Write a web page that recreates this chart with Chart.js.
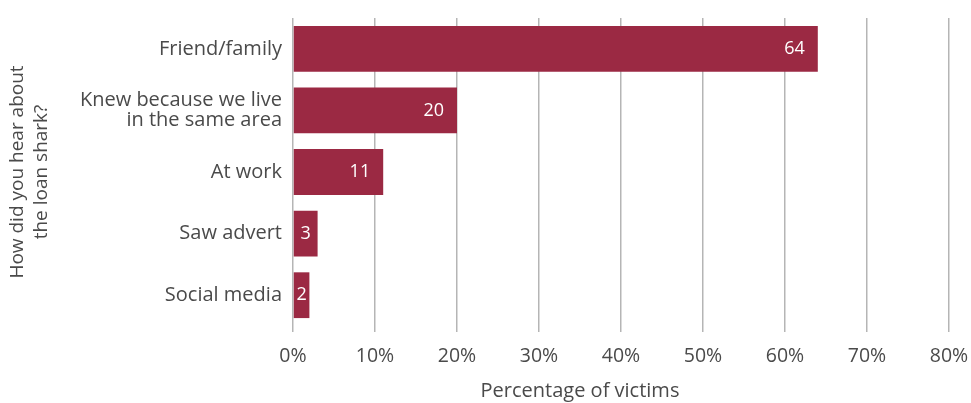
<!DOCTYPE html>
<html>
<head>
<meta charset="utf-8">
<script src="https://cdn.jsdelivr.net/npm/chart.js@4.4.0/dist/chart.umd.min.js"></script>
<style>
  html, body { margin: 0; padding: 0; background: #ffffff; }
  #wrap { width: 971px; height: 403px; }
</style>
</head>
<body>
<div id="wrap"><canvas id="chart" width="971" height="403"></canvas></div>
<script>
// How victims first heard about the loan shark (% of victims)
const categories = [
  'Friend/family',
  ['Knew because we live', 'in the same area'],
  'At work',
  'Saw advert',
  'Social media'
];
const shares = [64, 20, 11, 3, 2];
const xTicks = [0, 10, 20, 30, 40, 50, 60, 70, 80];
const xTitle = 'Percentage of victims';

const BAR = '#9b2943';
const TEXT = '#4a4a4a';
const FONT = '"Open Sans", "Noto Sans", sans-serif';

// White value labels at the inside end of each bar (centred when the bar is short)
const valueLabels = {
  id: 'valueLabels',
  afterDatasetsDraw(chart) {
    const ctx = chart.ctx;
    const meta = chart.getDatasetMeta(0);
    ctx.save();
    ctx.font = '18px ' + FONT;
    ctx.fillStyle = '#ffffff';
    ctx.textBaseline = 'middle';
    meta.data.forEach((bar, i) => {
      const txt = String(shares[i]);
      const w = ctx.measureText(txt).width;
      const start = bar.base, end = bar.x;
      if (end - start >= w + 26) {
        ctx.textAlign = 'right';
        ctx.fillText(txt, end - 13, bar.y);
      } else {
        ctx.textAlign = 'center';
        ctx.fillText(txt, (start + end) / 2, bar.y);
      }
    });
    ctx.restore();
  }
};

// Horizontal axis title, placed under the 35% mark near the bottom of the x scale
const xAxisTitle = {
  id: 'xAxisTitle',
  afterDraw(chart) {
    const ctx = chart.ctx;
    const sx = chart.scales.x;
    ctx.save();
    ctx.font = '20px ' + FONT;
    ctx.fillStyle = TEXT;
    ctx.textAlign = 'center';
    ctx.textBaseline = 'middle';
    ctx.fillText(xTitle, sx.getPixelForValue(35), sx.bottom - 12);
    ctx.restore();
  }
};

new Chart(document.getElementById('chart'), {
  type: 'bar',
  data: {
    labels: categories,
    datasets: [{
      data: shares,
      backgroundColor: BAR,
      borderWidth: 0,
      barPercentage: 0.743,
      categoryPercentage: 1
    }]
  },
  options: {
    indexAxis: 'y',
    responsive: false,
    animation: false,
    layout: { padding: { left: 0, right: 22, top: 18, bottom: 0 } },
    plugins: { legend: { display: false }, tooltip: { enabled: false } },
    scales: {
      x: {
        min: 0,
        max: 80,
        afterBuildTicks(scale) { scale.ticks = xTicks.map(v => ({ value: v })); },
        afterFit(scale) {
          scale.height = 77;
          scale.paddingLeft = 0;
          scale.paddingRight = 0;
        },
        grid: { color: '#b5b5b5', lineWidth: 1.5, drawTicks: true, tickLength: 6, tickColor: '#b5b5b5' },
        border: { display: false },
        ticks: {
          color: TEXT,
          padding: 13,
          font: { family: FONT, size: 19.5 },
          callback: v => v + '%'
        },
        title: { display: false }
      },
      y: {
        afterFit(scale) {
          scale.width = 293;
          scale.paddingTop = 0;
          scale.paddingBottom = 0;
        },
        grid: { display: false, drawTicks: false },
        border: { display: false },
        ticks: {
          color: TEXT,
          padding: 11,
          font: { family: FONT, size: 20, lineHeight: 1.0 }
        },
        title: {
          display: true,
          text: ['How did you hear about', 'the loan shark?'],
          color: TEXT,
          padding: { top: 6, bottom: 0 },
          font: { family: FONT, size: 19, lineHeight: 1.25 }
        }
      }
    }
  },
  plugins: [valueLabels, xAxisTitle]
});
</script>
</body>
</html>
